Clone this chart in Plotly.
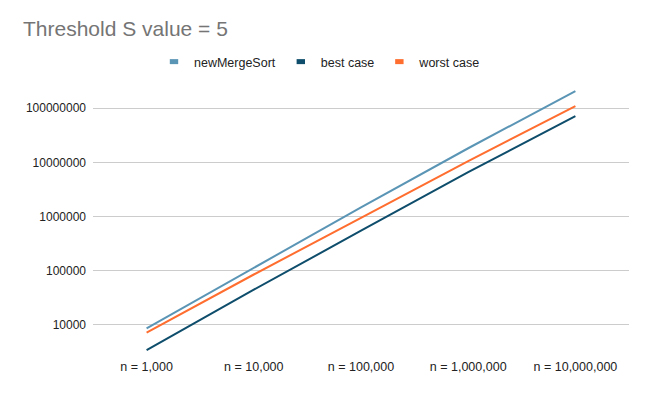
import plotly.graph_objects as go

categories = ["n = 1,000", "n = 10,000", "n = 100,000", "n = 1,000,000", "n = 10,000,000"]
new_merge_sort = [8700, 115000, 1480000, 18300000, 208000000]
best_case = [3450, 44800, 550000, 6600000, 72000000]
worst_case = [7250, 85500, 950000, 10600000, 110000000]

series_names = ["newMergeSort", "best case", "worst case"]
series_values = [new_merge_sort, best_case, worst_case]
colors = ["#5b95b5", "#0e4d6b", "#ff6d2f"]

y_tick_vals = [10000, 100000, 1000000, 10000000, 100000000]
y_tick_text = ["10000", "100000", "1000000", "10000000", "100000000"]

fig = go.Figure()
for name, vals, col in zip(series_names, series_values, colors):
    fig.add_trace(go.Scatter(x=categories, y=vals, mode="lines", name=name,
                             line=dict(color=col, width=2), showlegend=False,
                             hoverinfo="skip"))
# legend entries with short thick bar symbols
for name, col in zip(series_names, colors):
    fig.add_trace(go.Scatter(x=[None], y=[None], mode="markers", name=name,
                             marker=dict(symbol="line-ew", size=6,
                                         line=dict(color=col, width=5)),
                             showlegend=True))

fig.update_layout(
    width=658, height=393,
    paper_bgcolor="white", plot_bgcolor="white",
    margin=dict(l=93, r=29, t=85, b=38, autoexpand=False),
    font=dict(family="Liberation Sans, Arial, sans-serif", size=12, color="#222222"),
    title=dict(text="Threshold S value = 5", x=23/658, xanchor="left",
               xref="container", yref="container", y=1 - 29/393, yanchor="middle",
               font=dict(size=21, color="#757575")),
    legend=dict(orientation="h", x=0.5 - 9/658, xanchor="center", xref="container",
                y=1 - 62/393, yanchor="middle", yref="container",
                font=dict(size=12.5, color="#222222"), itemwidth=30,
                bgcolor="rgba(0,0,0,0)"),
    showlegend=True,
)
fig.update_xaxes(type="category", range=[-0.5, 4.5], showgrid=False, zeroline=False,
                 showline=False, ticks="", automargin=False, ticklabelstandoff=2,
                 tickfont=dict(size=12.5, color="#222222"))
fig.update_yaxes(type="log", range=[3.446, 8.430], tickvals=y_tick_vals,
                 ticktext=y_tick_text, showgrid=True, gridcolor="#cccccc", gridwidth=1,
                 zeroline=False, showline=False, ticks="", ticklabelstandoff=6,
                 automargin=False, tickfont=dict(size=12, color="#222222"))

fig.write_html("out.html")
